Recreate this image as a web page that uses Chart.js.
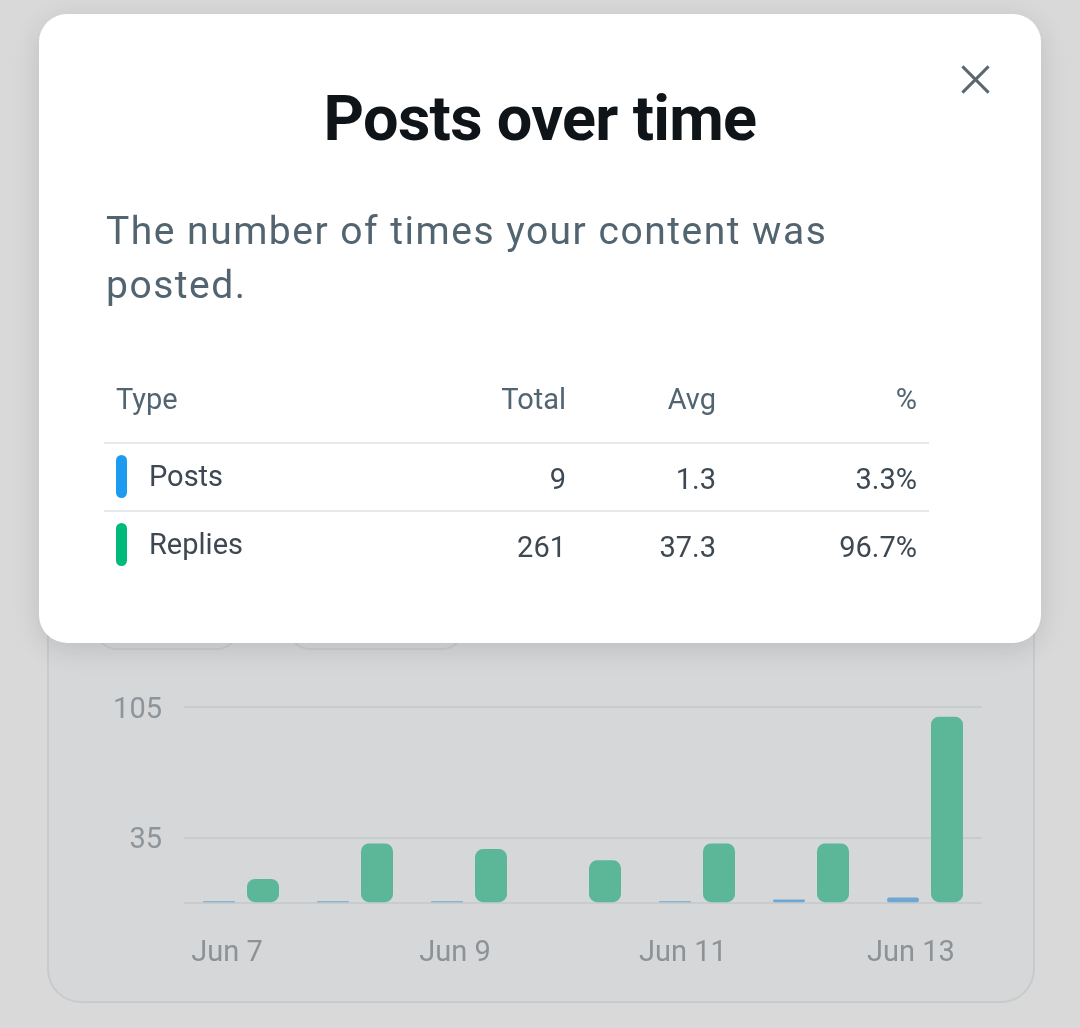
<!DOCTYPE html>
<html>
<head>
<meta charset="utf-8">
<script src="https://cdn.jsdelivr.net/npm/chart.js@4"></script>
<style>
  html, body { margin: 0; padding: 0; }
  body {
    width: 1080px; height: 1028px; overflow: hidden; position: relative;
    background: #d9d9d9; font-family: Roboto, "Noto Sans", sans-serif;
  }
  .card {
    position: absolute; left: 47px; top: 560px; width: 984px; height: 439px;
    background: #d5d7d9; border: 2px solid #c8cacc; border-radius: 34px;
  }
  .pill {
    position: absolute; top: 560px; height: 86px; border: 2px solid #c9cbcd;
    border-radius: 22px; background: #d5d7d9;
  }
  .chart-wrap { position: absolute; left: 90px; top: 668px; width: 920px; height: 357px; }
  .modal {
    position: absolute; left: 39px; top: 14px; width: 1002px; height: 629px;
    background: #fff; border-radius: 28px; box-shadow: 0 6px 28px rgba(0,0,0,0.12);
  }
  .close { position: absolute; left: 922px; top: 52px; width: 28px; height: 28px; }
  .close:before, .close:after {
    content: ""; position: absolute; left: -4px; top: 12px; width: 37px; height: 3px;
    background: #5b6770; transform: rotate(45deg);
  }
  .close:after { transform: rotate(-45deg); }
  h1 {
    position: absolute; left: 0; right: 0; top: 65px; margin: 0; text-align: center;
    font-size: 63px; font-weight: 700; color: #0f1419; letter-spacing: -0.7px; line-height: 80px;
  }
  .desc {
    position: absolute; left: 67px; top: 190px; margin: 0; width: 820px;
    font-size: 39px; line-height: 54px; color: #536471; letter-spacing: 1.5px;
  }
  table {
    position: absolute; left: 65px; top: 370px; width: 825px; border-collapse: collapse;
    font-size: 29px;
  }
  th {
    font-weight: 400; color: #536471; height: 58px; padding: 0 12px; line-height: 30px;
    vertical-align: top; border-bottom: 2px solid #e6e9eb;
  }
  td { color: #3d4852; height: 63px; padding: 3px 12px 0 12px; }
  tr.first td { border-bottom: 2px solid #e6e9eb; }
  .r { text-align: right; }
  .l { text-align: left; }
  .chip {
    display: inline-block; width: 11px; height: 43px; border-radius: 6px;
    vertical-align: middle; margin-right: 22px; position: relative; top: -2px;
  }
</style>
</head>
<body>
<div class="card"></div>
<div class="pill" style="left:95px;width:140px;"></div>
<div class="pill" style="left:288px;width:172px;"></div>
<div class="chart-wrap"><canvas id="chart"></canvas></div>

<div class="modal">
  <div class="close"></div>
  <h1>Posts over time</h1>
  <p class="desc">The number of times your content was posted.</p>
  <table id="stats">
    <tr><th class="l">Type</th><th class="r" style="width:150px">Total</th><th class="r" style="width:126px">Avg</th><th class="r" style="width:177px">%</th></tr>
  </table>
</div>

<script>
const days = ["Jun 7", "Jun 8", "Jun 9", "Jun 10", "Jun 11", "Jun 12", "Jun 13"];
const posts = [1, 1, 1, 0, 1, 2, 3];
const replies = [13, 32, 29, 23, 32, 32, 100];
const yTicks = [0, 35, 105];
const seriesNames = ["Posts", "Replies"];
const chipColors = ["#1d9bf0", "#00ba7c"];
const barColors = ["#6fa7d2", "#5bb798"];

// stats table
const all = [posts, replies];
const grand = all.reduce((s, a) => s + a.reduce((x, y) => x + y, 0), 0);
const tbl = document.getElementById("stats");
all.forEach((arr, i) => {
  const total = arr.reduce((x, y) => x + y, 0);
  const tr = document.createElement("tr");
  if (i === 0) tr.className = "first";
  tr.innerHTML =
    `<td class="l"><span class="chip" style="background:${chipColors[i]}"></span>${seriesNames[i]}</td>` +
    `<td class="r">${total}</td>` +
    `<td class="r">${(total / arr.length).toFixed(1)}</td>` +
    `<td class="r">${(total / grand * 100).toFixed(1)}%</td>`;
  tbl.appendChild(tr);
});

// chart
new Chart(document.getElementById("chart"), {
  type: "bar",
  data: {
    labels: days,
    datasets: [
      { label: seriesNames[0], data: posts, backgroundColor: barColors[0], borderRadius: 6, borderSkipped: false },
      { label: seriesNames[1], data: replies, backgroundColor: barColors[1], borderRadius: 8, borderSkipped: false },
    ],
  },
  options: {
    responsive: true,
    maintainAspectRatio: false,
    animation: false,
    categoryPercentage: 0.772,
    barPercentage: 0.727,
    layout: { padding: { top: 17, right: 28, bottom: 21, left: 0 } },
    plugins: { legend: { display: false }, tooltip: { enabled: false } },
    scales: {
      x: {
        grid: { display: false, drawTicks: false },
        border: { display: false },
        ticks: {
          autoSkip: false,
          maxRotation: 0,
          padding: 33,
          labelOffset: -14,
          color: "#8d9297",
          font: { family: "Roboto", size: 29 },
          callback: (v, i) => (i % 2 === 0 ? days[i] : ""),
        },
      },
      y: {
        min: 0,
        max: 105,
        afterBuildTicks: (s) => { s.ticks = yTicks.map((v) => ({ value: v })); },
        afterFit: (s) => { s.width = 94; },
        grid: { color: "#c9cccf", lineWidth: 2, drawTicks: false },
        border: { display: false },
        ticks: {
          padding: 22,
          labelOffset: 3,
          color: "#8d959b",
          font: { family: "Roboto", size: 29 },
          callback: (v) => (v === 0 ? "" : v),
        },
      },
    },
  },
});
</script>
</body>
</html>
